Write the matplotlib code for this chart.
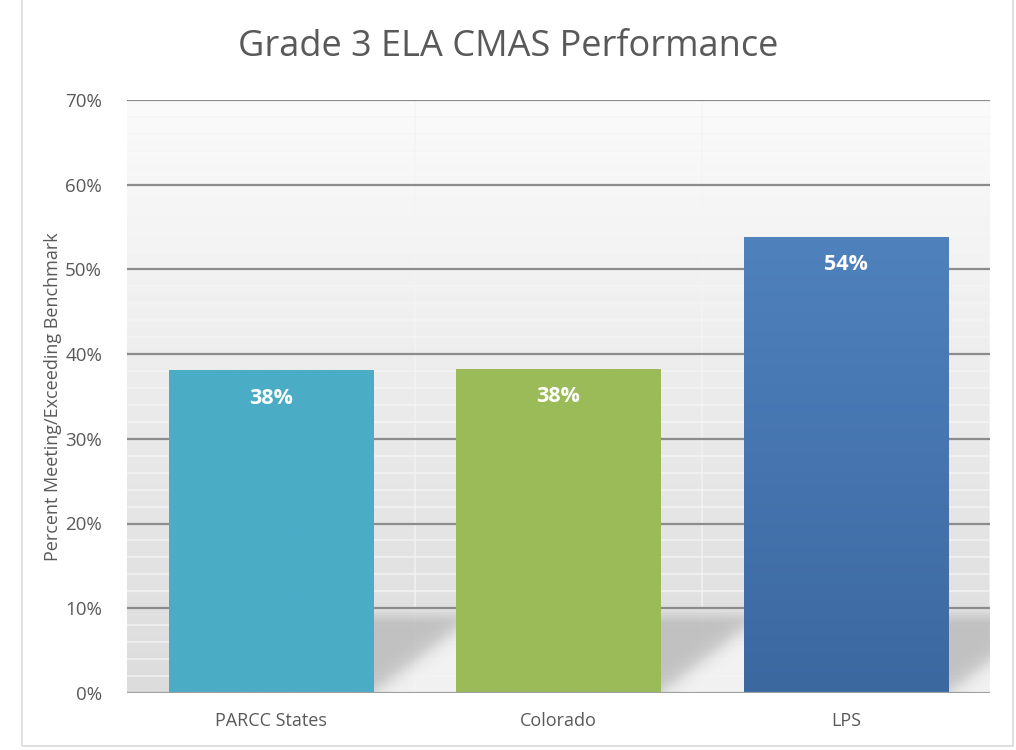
import numpy as np
import matplotlib
matplotlib.use('Agg')
import matplotlib.pyplot as plt
from matplotlib.patches import Rectangle
from matplotlib.colors import LinearSegmentedColormap

CATEGORIES = ['PARCC States', 'Colorado', 'LPS']
VALUES = [38.0, 38.2, 53.8]
LABELS = ['38%', '38%', '54%']
TOP_COLORS = ['#4BACC6', '#9BBB59', '#4F81BD']
BOTTOM_COLORS = ['#4BACC6', '#9BBB59', '#3C68A0']
YTICKS = [0, 10, 20, 30, 40, 50, 60, 70]

plt.rcParams['font.family'] = ['Open Sans', 'DejaVu Sans']

fig = plt.figure(figsize=(10.16, 7.5), dpi=100)
ax = fig.add_axes([0.125, 0.076, 0.849, 0.791])

# light frame around the chart
fig.patches.append(Rectangle((0.022, 0.006), 0.975, 1.2, transform=fig.transFigure,
                             fill=False, edgecolor='#d9d9d9', lw=1.2))

x = np.arange(len(CATEGORIES))
width = 0.71
ax.set_xlim(-0.5, len(CATEGORIES) - 0.5)
ax.set_ylim(0, 70)

# plot-area background gradient (white top -> light grey bottom)
grad = np.linspace(0, 1, 256).reshape(-1, 1)
bg = LinearSegmentedColormap.from_list('bg', ['#dcdcdc', '#fbfbfb'])
ax.imshow(grad, extent=(-0.5, 2.5, 0, 70), origin='lower', aspect='auto',
          cmap=bg, zorder=0)

# minor grid (white-ish) and vertical separators
for v in np.arange(2, 70, 2):
    if v % 10:
        ax.axhline(v, color='#f5f5f5', lw=1.2, alpha=0.8, zorder=1)
for b in [0.5, 1.5, 2.5]:
    ax.axvline(b, color='#f4f4f4', lw=1.2, alpha=0.8, zorder=1)

# floor shadows to the right of each bar (soft diagonal fade)
gap = 1 - width
nx, ny = 80, 120
gx, gy = np.meshgrid(np.linspace(0, 1, nx), np.linspace(0, 10, ny))
diag = 1 / (1 + np.exp(-(gy - 7.5 * gx) / 0.7))          # 1 above the diagonal
top = np.clip((10 - gy) / 1.8, 0, 1) ** 0.8               # fade in below the 10% line
shade = diag * (0.25 + 0.75 * top)
dark, light = np.array([0.75, 0.75, 0.75]), np.array([0.96, 0.96, 0.96])
rgb = light[None, None, :] * (1 - shade[..., None]) + dark[None, None, :] * shade[..., None]
for xi in x:
    right = xi + width / 2
    ax.imshow(rgb, extent=(right, right + gap, 0, 10), origin='lower',
              aspect='auto', zorder=1.1, alpha=0.92, interpolation='bilinear')

for v in YTICKS[1:]:
    ax.axhline(v, color='#8c8c8c', lw=1.6, zorder=1.3)

# bars with vertical gradient
for xi, val, ct, cb, lab in zip(x, VALUES, TOP_COLORS, BOTTOM_COLORS, LABELS):
    cm = LinearSegmentedColormap.from_list('b', [cb, ct])
    ax.imshow(np.linspace(0, 1, 128).reshape(-1, 1),
              extent=(xi - width / 2, xi + width / 2, 0, val),
              origin='lower', aspect='auto', cmap=cm, zorder=2)
    ax.text(xi, val - 3.2, lab, ha='center', va='center', color='white',
            fontsize=15.5, fontweight='bold', zorder=3)

ax.axhline(0, color='#a0a0a0', lw=1.6, zorder=2.5)
ax.set_xlim(-0.5, len(CATEGORIES) - 0.5)
ax.set_ylim(0, 70)

ax.set_xticks(x)
ax.set_xticklabels(CATEGORIES, fontsize=13, color='#595959')
ax.set_yticks(YTICKS)
ax.set_yticklabels([f'{v}%' for v in YTICKS], fontsize=13.5, color='#595959')
ax.tick_params(length=0, pad=14)
ax.tick_params(axis='y', pad=18)
for s in ax.spines.values():
    s.set_visible(False)

ax.set_ylabel('Percent Meeting/Exceeding Benchmark', fontsize=13, color='#595959',
              labelpad=2)
fig.text(0.5, 0.937, 'Grade 3 ELA CMAS Performance', ha='center', va='center',
         fontsize=26, color='#595959')

fig.savefig('out.png', dpi=100)
